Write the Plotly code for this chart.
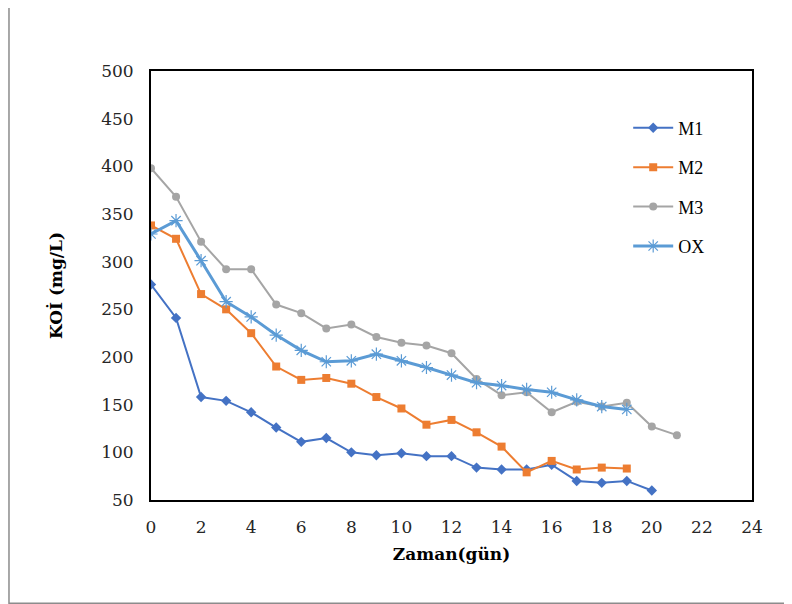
import plotly.graph_objects as go

# COD (KOİ) over time
days_m1 = list(range(0, 21))
m1 = [276, 241, 158, 154, 142, 126, 111, 115, 100, 97, 99, 96, 96, 84, 82, 82, 87, 70, 68, 70, 60]

days_m2 = list(range(0, 20))
m2 = [338, 324, 266, 250, 225, 190, 176, 178, 172, 158, 146, 129, 134, 121, 106, 79, 91, 82, 84, 83]

days_m3 = list(range(0, 22))
m3 = [398, 368, 321, 292, 292, 255, 246, 230, 234, 221, 215, 212, 204, 177, 160, 163, 142, 153, 148, 152, 127, 118]

days_ox = list(range(0, 20))
ox = [329, 343, 301, 258, 242, 223, 207, 195, 196, 203, 196, 189, 181, 173, 170, 166, 163, 155, 148, 145]

x_ticks = list(range(0, 25, 2))
y_ticks = list(range(50, 501, 50))

fig = go.Figure()
fig.add_trace(go.Scatter(x=days_m1, y=m1, name="M1", mode="lines+markers", legendgroup="a",
                         line=dict(color="#4472C4", width=2),
                         marker=dict(symbol="diamond", size=8, color="#4472C4")))
fig.add_trace(go.Scatter(x=days_m2, y=m2, name="M2", mode="lines+markers", legendgroup="b",
                         line=dict(color="#ED7D31", width=2),
                         marker=dict(symbol="square", size=8, color="#ED7D31")))
fig.add_trace(go.Scatter(x=days_m3, y=m3, name="M3", mode="lines+markers", legendgroup="c",
                         line=dict(color="#A5A5A5", width=2),
                         marker=dict(symbol="circle", size=8, color="#A5A5A5")))
fig.add_trace(go.Scatter(x=days_ox, y=ox, name="OX", mode="lines+markers", legendgroup="d",
                         line=dict(color="#5B9BD5", width=3),
                         marker=dict(symbol="asterisk-open", size=11,
                                     line=dict(color="#9DC3E6", width=1.2))))

axis_font = dict(family="DejaVu Serif", size=17, color="#262626")
fig.update_xaxes(range=[0, 24], tickvals=x_ticks, showgrid=False, zeroline=False,
                 showline=True, linecolor="black", linewidth=2, mirror=True,
                 tickfont=axis_font, ticklabelstandoff=11,
                 title=dict(text="<b>Zaman(gün)</b>", standoff=12,
                            font=dict(family="DejaVu Serif", size=17, color="black")))
fig.update_yaxes(range=[50, 500], tickvals=y_ticks, showgrid=False, zeroline=False,
                 showline=True, linecolor="black", linewidth=2, mirror=True,
                 tickfont=axis_font, ticklabelstandoff=12,
                 title=dict(text="<b>KOİ (mg/L)</b>", standoff=34,
                            font=dict(family="DejaVu Serif", size=17, color="black")))

# grey frame of the chart area
fig.add_shape(type="rect", xref="paper", yref="paper", x0=-0.2363, x1=1.0616, y0=-0.2404, y1=1.25,
              line=dict(color="#8c8c8c", width=1.5), layer="below")

# the page body adds an 8 px offset, so the figure is 8 px smaller
fig.update_layout(
    width=784, height=596,
    margin=dict(l=143, r=40, t=63, b=104),
    paper_bgcolor="white", plot_bgcolor="white",
    legend=dict(x=0.794, y=0.91, xanchor="left", yanchor="top", bgcolor="rgba(0,0,0,0)",
                font=dict(family="Liberation Serif", size=18, color="black"),
                tracegroupgap=13, itemwidth=40),
)

fig.write_html("out.html")
